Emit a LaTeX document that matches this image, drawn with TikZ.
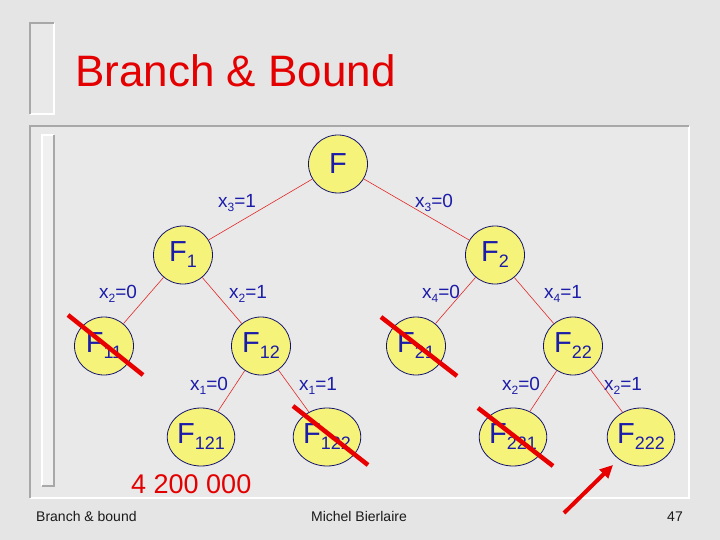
\documentclass[tikz,border=0pt]{standalone}
\usepackage{fontspec}
\setmainfont{Liberation Sans}
\usetikzlibrary{shapes.geometric,arrows.meta}
\definecolor{bg}{RGB}{229,229,229}
\definecolor{panel}{RGB}{233,233,233}
\definecolor{nodefill}{RGB}{246,243,122}
\definecolor{navy}{RGB}{20,20,110}
\definecolor{lblue}{RGB}{28,28,170}
\definecolor{edgered}{RGB}{225,40,40}
\definecolor{crossred}{RGB}{232,0,0}
\definecolor{titlered}{RGB}{228,0,0}
\definecolor{frgray}{RGB}{168,168,168}
\newcommand{\nsub}[1]{\raisebox{-6pt}{\fontsize{18}{18}\selectfont #1}}
\newcommand{\lsub}[1]{\raisebox{-4pt}{\fontsize{12}{12}\selectfont #1}}
\begin{document}
\begin{tikzpicture}[x=1pt,y=-1pt,
  tnode/.style={ellipse, draw=navy, line width=0.8pt, fill=nodefill,
    minimum width=59pt, minimum height=58pt, inner sep=0pt, text=lblue,
    font=\fontsize{29}{29}\selectfont},
  lbl/.style={text=lblue, font=\fontsize{19}{19}\selectfont, inner sep=0pt},
  edge/.style={draw=edgered, line width=0.6pt},
  cross/.style={draw=crossred, line width=4.5pt},
  hint/.style={draw=crossred, line width=4pt, -{Triangle[length=13pt,width=12pt]}},
  footer/.style={font=\fontsize{14}{14}\selectfont, text=black!90, inner sep=0pt},
  darkedge/.style={draw=frgray, line width=2pt},
  lightedge/.style={draw=white, line width=2pt}]
\useasboundingbox (0,0) rectangle (720,540);
\fill[bg] (0,0) rectangle (720,540);
% title bracket
\fill[panel] (30,23) rectangle (54,114);
\draw[lightedge] (54,23) -- (54,114) -- (30,114);
\draw[darkedge] (30,114) -- (30,23) -- (54,23);
% content box
\fill[panel] (30,126) rectangle (689,498);
\draw[lightedge] (689,126) -- (689,498) -- (30,498);
\draw[darkedge] (30,498) -- (30,126) -- (689,126);
% inner bar
\fill[panel!70!white] (42,135) rectangle (54,486);
\draw[draw=white, line width=1.5pt] (42,486) -- (42,135) -- (54,135);
\draw[draw=frgray, line width=1.5pt] (54,135) -- (54,486) -- (42,486);
% title
\node[anchor=base west, inner sep=0pt, text=titlered, font=\fontsize{44}{44}\selectfont] (title) at (75,87) {Branch \& Bound};
% tree nodes
\node[tnode] (F) at (338,164) {F};
\node[tnode] (F1) at (183,255) {F\nsub{1}};
\node[tnode] (F2) at (495,255) {F\nsub{2}};
\node[tnode] (F11) at (104,346) {F\nsub{11}};
\node[tnode] (F12) at (261,346) {F\nsub{12}};
\node[tnode] (F21) at (416,346) {F\nsub{21}};
\node[tnode] (F22) at (573,346) {F\nsub{22}};
\node[tnode] (F121) at (201,437) {F\nsub{121}};
\node[tnode] (F122) at (327,437) {F\nsub{122}};
\node[tnode] (F221) at (513,437) {F\nsub{221}};
\node[tnode] (F222) at (641,437) {F\nsub{222}};
% edges
\draw[edge] (F) -- (F1);
\draw[edge] (F) -- (F2);
\draw[edge] (F1) -- (F11);
\draw[edge] (F1) -- (F12);
\draw[edge] (F2) -- (F21);
\draw[edge] (F2) -- (F22);
\draw[edge] (F12) -- (F121);
\draw[edge] (F12) -- (F122);
\draw[edge] (F22) -- (F221);
\draw[edge] (F22) -- (F222);
% labels
\node[lbl] (l1) at (237,203) {x\lsub{3}=1};
\node[lbl] (l2) at (434,203) {x\lsub{3}=0};
\node[lbl] (l3) at (118,294) {x\lsub{2}=0};
\node[lbl] (l4) at (248,294) {x\lsub{2}=1};
\node[lbl] (l5) at (441,294) {x\lsub{4}=0};
\node[lbl] (l6) at (563,294) {x\lsub{4}=1};
\node[lbl] (l7) at (209,386) {x\lsub{1}=0};
\node[lbl] (l8) at (318,386) {x\lsub{1}=1};
\node[lbl] (l9) at (521,386) {x\lsub{2}=0};
\node[lbl] (l10) at (623,386) {x\lsub{2}=1};
% crosses
\draw[cross] (68,315) -- (143,375);
\draw[cross] (381,317) -- (457,376);
\draw[cross] (293,406) -- (368,465);
\draw[cross] (478,408) -- (553,466);
% arrow
\coordinate (arrtail) at (564,513);
\coordinate (arrtip) at (613,465);
\draw[hint] (arrtail) -- (arrtip);
% bound value
\node[anchor=base west, inner sep=0pt, text=titlered, font=\fontsize{27}{27}\selectfont] (bound) at (131,493) {4 200 000};
% footer
\node[footer, anchor=base west] (ft1) at (36,521) {Branch \& bound};
\node[footer, anchor=base] (ft2) at (359,521) {Michel Bierlaire};
\node[footer, anchor=base east] (ft3) at (683,521) {47};
\end{tikzpicture}
\end{document}
